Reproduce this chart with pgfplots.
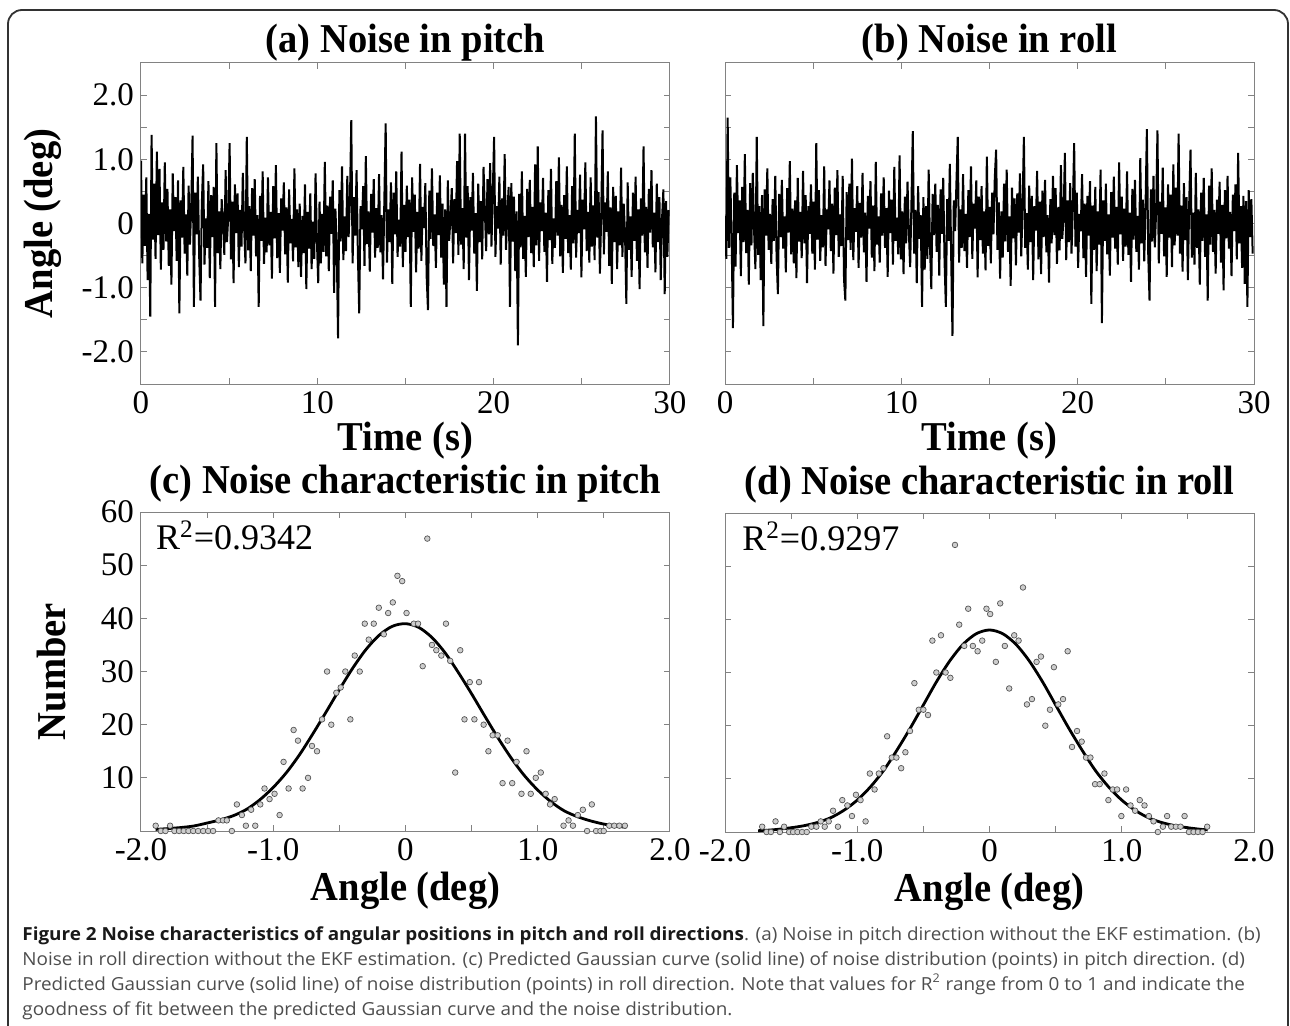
\documentclass[border=0pt]{standalone}
\usepackage{fontspec}
\setmainfont{Liberation Serif}
\newfontfamily\titlefont{Liberation Serif}[FakeStretch=0.94]
\newfontfamily\capfont{Open Sans}[FakeStretch=1.05]
\usepackage{pgfplots}
\pgfplotsset{compat=1.18}
\usepackage{pgfplotstable}

\definecolor{axisgray}{RGB}{130,130,130}
\definecolor{markfill}{RGB}{205,205,205}
\definecolor{markedge}{RGB}{85,85,85}
\definecolor{captext}{RGB}{77,77,77}
\definecolor{capbold}{RGB}{25,25,25}
\definecolor{framecol}{RGB}{50,50,50}

% pitch noise, one sample every 0.075 s
\pgfplotstableread[row sep=\\,header=false]{
0.98\\ -0.62\\ 0.45\\ -0.35\\ 0.72\\ -0.88\\ 0.15\\ -1.45\\ 1.38\\ -0.25\\ 0.62\\ -0.55\\ 1.12\\ -0.18\\ 0.85\\ -0.72\\ 0.33\\ -0.41\\ 0.95\\ -0.28\\
0.54\\ -0.66\\ 0.22\\ -0.95\\ 0.78\\ -0.12\\ 0.41\\ -0.58\\ 0.67\\ -1.40\\ 0.36\\ -0.22\\ 0.88\\ -0.47\\ 0.14\\ -0.81\\ 0.59\\ -0.33\\ 0.26\\ 1.37\\
-1.30\\ 0.48\\ -0.17\\ 0.73\\ -0.52\\ -1.20\\ 0.31\\ 0.92\\ -0.64\\ 0.08\\ -0.38\\ 0.66\\ -0.85\\ 0.44\\ -0.21\\ 0.57\\ -1.30\\ 1.25\\ -0.46\\ 0.19\\
-0.71\\ 0.38\\ 0.05\\ -0.49\\ 0.83\\ -0.29\\ 0.12\\ 1.25\\ -0.56\\ 0.34\\ -0.93\\ 0.61\\ -0.15\\ 0.47\\ -0.68\\ 0.21\\ -0.36\\ 0.79\\ -0.08\\ -0.62\\
1.35\\ -0.42\\ 0.27\\ -0.74\\ 0.55\\ -0.19\\ 0.69\\ -0.51\\ 0.13\\ -1.30\\ 0.43\\ -0.27\\ 0.81\\ -0.63\\ 0.09\\ -0.45\\ 0.72\\ -0.34\\ 0.18\\ -0.86\\
0.58\\ -0.23\\ 0.91\\ -0.54\\ 0.16\\ -0.77\\ 0.39\\ -0.11\\ 0.64\\ -0.48\\ 0.25\\ -0.92\\ 0.53\\ -0.31\\ 0.07\\ -0.59\\ 0.86\\ -0.37\\ 0.22\\ -0.68\\
0.31\\ -0.83\\ 0.12\\ -0.46\\ 0.61\\ -1.02\\ 0.18\\ -0.39\\ 0.47\\ -0.71\\ 0.03\\ -0.55\\ 0.78\\ -0.26\\ -0.93\\ 0.34\\ -0.62\\ 0.15\\ -0.44\\ 0.96\\
-0.51\\ 0.28\\ -0.74\\ 0.42\\ -0.16\\ 0.67\\ -1.08\\ 0.23\\ -0.35\\ -1.79\\ 0.52\\ -0.28\\ 0.89\\ -0.57\\ 0.11\\ -0.43\\ 0.74\\ -0.21\\ 0.36\\ 1.61\\
-0.62\\ 0.41\\ -0.19\\ 0.83\\ -0.48\\ -1.40\\ 0.27\\ -0.09\\ 0.58\\ -0.66\\ 1.05\\ -0.32\\ 0.19\\ -0.75\\ 0.46\\ -0.14\\ 0.69\\ -0.53\\ 0.24\\ -0.38\\
0.77\\ -0.45\\ 0.13\\ -0.87\\ 0.35\\ 1.56\\ -0.61\\ 0.22\\ -0.29\\ 0.64\\ -0.94\\ 0.48\\ -0.17\\ 0.81\\ -0.52\\ 0.06\\ -0.36\\ 1.12\\ -0.68\\ 0.29\\
-0.44\\ 0.59\\ -0.21\\ 0.37\\ -1.30\\ 0.72\\ -0.13\\ 0.45\\ -0.76\\ 0.18\\ -0.39\\ 0.93\\ -0.58\\ 0.26\\ -0.07\\ 0.63\\ -0.82\\ -1.35\\ 0.51\\ -0.24\\
0.86\\ -0.35\\ 0.14\\ -0.69\\ 0.48\\ -0.18\\ 0.75\\ -0.53\\ 0.31\\ -0.95\\ 0.22\\ -1.30\\ 0.67\\ -0.27\\ 0.09\\ 0.55\\ -0.62\\ 0.38\\ -0.15\\ 0.97\\
-0.49\\ 1.40\\ -0.33\\ 0.24\\ -0.71\\ 1.40\\ -0.22\\ 0.58\\ -0.88\\ 0.41\\ -0.11\\ 0.79\\ -0.47\\ 0.16\\ -1.05\\ 0.62\\ -0.29\\ 0.35\\ -0.56\\ 0.88\\
0.21\\ -0.43\\ 0.69\\ -0.17\\ 0.94\\ -0.36\\ 0.48\\ 1.35\\ -0.52\\ 0.27\\ -0.08\\ 0.73\\ -0.64\\ 0.39\\ -0.19\\ 1.08\\ -0.41\\ 0.15\\ 0.57\\ -1.30\\
0.63\\ -0.28\\ 0.42\\ -0.74\\ 0.19\\ -1.90\\ 0.46\\ -0.37\\ 0.81\\ -0.55\\ 0.12\\ -0.83\\ 0.54\\ -0.21\\ 0.68\\ -0.46\\ 0.26\\ -0.68\\ 0.92\\ -0.34\\
1.20\\ -0.58\\ 0.33\\ -0.12\\ 0.71\\ -0.44\\ 0.17\\ -0.91\\ 0.52\\ -0.26\\ 0.85\\ -0.63\\ 0.08\\ -0.38\\ 0.66\\ -0.19\\ 1.03\\ -0.51\\ 0.29\\ -0.77\\
0.44\\ -0.24\\ 0.89\\ -0.46\\ 0.13\\ -0.72\\ 0.58\\ -0.31\\ 1.40\\ -0.53\\ 0.21\\ -0.15\\ 0.76\\ -0.84\\ 0.37\\ -0.09\\ 0.95\\ -0.43\\ 0.18\\ -0.61\\
0.72\\ -0.36\\ 0.28\\ -0.57\\ 1.67\\ -0.22\\ 0.49\\ -0.78\\ 0.14\\ 1.45\\ -0.48\\ 0.33\\ -0.13\\ 0.81\\ -0.66\\ 0.25\\ -0.94\\ 0.57\\ -0.29\\ 0.43\\
-0.71\\ 0.19\\ -0.34\\ 0.87\\ -0.52\\ 0.31\\ -0.16\\ -1.25\\ 0.64\\ -0.41\\ 0.11\\ -0.83\\ 0.48\\ -0.27\\ 0.73\\ -0.58\\ 0.22\\ -1.02\\ 0.39\\ -0.19\\
1.20\\ -0.45\\ 0.26\\ -0.69\\ 0.54\\ -0.14\\ 0.83\\ -0.37\\ 0.17\\ -0.76\\ 0.62\\ -0.29\\ 0.41\\ -0.88\\ 0.08\\ 0.53\\ -1.10\\ 0.35\\ -0.52\\ 0.21\\
}\pitchnoise

% roll noise, one sample every 0.075 s
\pgfplotstableread[row sep=\\,header=false]{
0.12\\ -0.55\\ 1.65\\ -0.38\\ 0.72\\ -0.24\\ -1.63\\ 0.48\\ -0.67\\ 0.91\\ -0.15\\ 0.36\\ -0.82\\ 0.57\\ -0.29\\ 1.08\\ -0.46\\ 0.21\\ -0.95\\ 0.63\\
-0.34\\ 0.79\\ -0.12\\ -0.71\\ 1.35\\ -0.49\\ 0.27\\ -0.88\\ 0.44\\ -1.60\\ 0.53\\ -0.19\\ 0.86\\ -0.41\\ 0.15\\ -0.63\\ 0.38\\ -0.27\\ 0.74\\ -0.52\\
-1.10\\ 0.46\\ -0.21\\ 0.68\\ -0.39\\ 0.11\\ -0.76\\ 0.55\\ -0.14\\ 0.97\\ -0.48\\ 0.23\\ -0.62\\ 0.36\\ -0.85\\ 0.71\\ -0.28\\ 0.18\\ -0.54\\ 0.82\\
-0.31\\ 0.44\\ -0.93\\ 0.27\\ -0.16\\ 0.61\\ -0.47\\ 0.34\\ -0.72\\ 1.25\\ -0.25\\ 0.52\\ -0.58\\ 0.13\\ -0.37\\ 0.89\\ -0.66\\ 0.22\\ -0.09\\ 0.67\\
-0.43\\ 0.31\\ -0.78\\ 0.56\\ -0.18\\ 0.83\\ -0.52\\ 0.14\\ -0.35\\ 0.74\\ -0.87\\ -1.20\\ 0.49\\ -0.26\\ 0.62\\ -0.41\\ 1.01\\ -0.57\\ 0.24\\ -0.13\\
0.58\\ -0.69\\ 0.32\\ -0.22\\ 0.79\\ -0.45\\ 0.17\\ -0.91\\ 0.43\\ -0.08\\ 0.66\\ -0.53\\ 0.28\\ -0.74\\ 0.96\\ -0.33\\ 0.11\\ -0.61\\ 0.47\\ -0.19\\
0.72\\ -0.38\\ 0.24\\ -0.83\\ 0.51\\ -0.15\\ 0.37\\ -0.64\\ 0.88\\ -0.27\\ 0.09\\ -0.48\\ 1.06\\ -0.56\\ 0.19\\ -0.79\\ 0.42\\ -0.31\\ 0.65\\ -0.12\\
-0.68\\ 0.35\\ 1.44\\ -0.47\\ 0.21\\ -0.93\\ 0.58\\ -0.24\\ 0.13\\ -1.30\\ 0.41\\ -0.72\\ 0.27\\ -0.55\\ 0.84\\ -0.36\\ -1.02\\ 0.46\\ -0.18\\ 0.62\\
-0.44\\ 0.29\\ -0.81\\ 0.53\\ -0.16\\ 0.71\\ -0.58\\ -1.30\\ 0.38\\ -0.27\\ 0.93\\ -0.49\\ -1.75\\ 0.36\\ -0.12\\ 0.64\\ 1.35\\ -0.61\\ 0.22\\ -0.38\\
0.77\\ -0.43\\ 0.15\\ -0.69\\ 0.52\\ -0.21\\ 0.89\\ -0.55\\ 0.31\\ -0.08\\ 0.67\\ -0.84\\ 0.42\\ -0.26\\ 0.58\\ -0.47\\ 0.19\\ -0.73\\ 1.04\\ -0.35\\
0.26\\ -0.62\\ 0.48\\ -0.17\\ 0.71\\ 1.15\\ -0.41\\ 0.33\\ -0.86\\ 0.19\\ -0.53\\ 0.62\\ -0.28\\ 0.84\\ -0.44\\ 0.11\\ -0.97\\ 0.56\\ -0.23\\ 0.39\\
-0.65\\ 0.47\\ -0.14\\ 0.78\\ -0.51\\ 0.24\\ 1.35\\ -0.38\\ 0.16\\ -0.72\\ 0.59\\ -0.29\\ 0.43\\ -0.88\\ 0.27\\ -0.11\\ 0.82\\ -0.56\\ 0.34\\ -0.79\\
0.51\\ -0.21\\ 0.68\\ -0.45\\ 0.13\\ -0.92\\ 0.38\\ -0.31\\ 0.74\\ -0.18\\ 0.55\\ -0.63\\ 0.26\\ -0.42\\ 0.91\\ -0.24\\ 0.09\\ 1.10\\ -0.57\\ 0.36\\
-0.29\\ 0.63\\ -0.47\\ 0.22\\ 1.25\\ -0.36\\ 0.48\\ -0.69\\ 0.15\\ -0.12\\ 0.77\\ -0.54\\ 0.31\\ -0.83\\ 0.43\\ -0.19\\ 0.66\\ -1.25\\ 0.28\\ -0.41\\
0.57\\ -0.74\\ 0.19\\ -0.33\\ 0.84\\ -1.55\\ 0.36\\ -0.27\\ 0.62\\ -0.48\\ 0.14\\ -0.81\\ 0.49\\ -0.22\\ 0.73\\ -0.39\\ 0.26\\ -0.64\\ 0.95\\ -0.17\\
0.42\\ -0.58\\ 0.23\\ -0.36\\ 0.81\\ -0.49\\ 0.17\\ -0.91\\ 0.54\\ -0.25\\ 0.68\\ -0.44\\ 0.12\\ -0.72\\ 1.02\\ -0.31\\ 0.37\\ -0.59\\ 0.28\\ 1.47\\
-0.46\\ -1.20\\ 0.53\\ -0.28\\ 0.74\\ -0.37\\ 0.19\\ 1.45\\ -0.62\\ 0.34\\ -0.16\\ 0.87\\ -0.51\\ 0.25\\ -0.83\\ 0.61\\ -0.22\\ 0.45\\ -0.68\\ 0.92\\
-0.34\\ 0.56\\ -0.19\\ 1.40\\ -0.47\\ 0.28\\ -0.75\\ 0.63\\ -0.26\\ 0.41\\ -0.88\\ 0.32\\ 1.15\\ -0.53\\ 0.17\\ -0.64\\ 0.79\\ -0.38\\ 0.22\\ -0.95\\
0.48\\ -0.27\\ 0.71\\ -0.52\\ 0.14\\ -1.20\\ 0.59\\ -0.33\\ 0.86\\ -0.44\\ 0.21\\ -0.78\\ 0.37\\ -0.16\\ 0.65\\ -0.61\\ 0.29\\ -1.04\\ 0.52\\ -0.23\\
0.74\\ -0.39\\ 0.18\\ -0.82\\ 0.45\\ -0.12\\ 0.61\\ -0.56\\ 1.10\\ -0.31\\ 0.27\\ -0.69\\ 0.43\\ -0.94\\ 0.35\\ -1.30\\ 0.52\\ -0.21\\ 0.38\\ -0.47\\
}\rollnoise

\pgfplotsset{
  every axis title shift=0pt,
  panel/.style={
    scale only axis, width=264.5pt, height=160.5pt, anchor=south west,
    axis line style={axisgray, line width=0.5pt},
    tick style={axisgray, line width=0.5pt},
    major tick length=3pt,
    tick label style={font=\fontsize{16.5}{18}\selectfont, black},
    title style={font=\titlefont\bfseries\fontsize{20.5}{24}\selectfont, anchor=center},
    label style={font=\titlefont\bfseries\fontsize{20.5}{24}\selectfont},
  },
  noise/.style={panel,
    xmin=0, xmax=30, ymin=-2.5, ymax=2.5,
    xtick={0,5,10,15,20,25,30}, xticklabels={0,,10,,20,,30},
    ytick={-2,-1.5,-1,-0.5,0,0.5,1,1.5,2},
    title style={at={(axis description cs:0.5,1.062)}},
    xlabel={Time (s)},
    xlabel style={at={(axis description cs:0.5,-0.176)}, anchor=center},
  },
  hist/.style={panel, height=159.5pt,
    xmin=-2, xmax=2, ymin=0, ymax=60,
    xtick={-2,-1.5,-1,-0.5,0,0.5,1,1.5,2},
    xticklabels={-2.0,,-1.0,,0,,1.0,,2.0},
    ytick={0,10,20,30,40,50,60},
    title style={at={(axis description cs:0.5,1.088)}},
    xlabel={Angle (deg)},
    xlabel style={at={(axis description cs:0.5,-0.187)}, anchor=center},
  },
  pts/.style={only marks, mark=*, mark size=1.4pt,
    mark options={fill=markfill, draw=markedge, line width=0.35pt}},
  fit/.style={black, line width=1.4pt, smooth},
  trace/.style={black, line width=1pt},
}

\begin{document}
\begin{tikzpicture}
\useasboundingbox (0,0) rectangle (645pt,512.5pt);
\draw[framecol, line width=0.9pt, rounded corners=7pt] (4pt,-20pt) rectangle (644pt,507.5pt);

% (a)
\begin{axis}[noise, at={(70.5pt,320.5pt)},
  yticklabels={-2.0,,-1.0,,0,,1.0,,2.0},
  title={(a) Noise in pitch},
  ylabel={Angle (deg)},
  ylabel style={at={(axis description cs:-0.186,0.5)}, anchor=center},
]
\addplot[trace] table[x expr=\coordindex*0.075, y index=0] {\pitchnoise};
\end{axis}

% (b)
\begin{axis}[noise, at={(362.5pt,320.5pt)},
  yticklabels={},
  title={(b) Noise in roll},
]
\addplot[trace] table[x expr=\coordindex*0.075, y index=0] {\rollnoise};
\end{axis}

% (c)
\begin{axis}[hist, at={(70.5pt,97pt)},
  yticklabels={,10,20,30,40,50,60},
  title={(c) Noise characteristic in pitch},
  ylabel={Number},
  ylabel style={at={(axis description cs:-0.170,0.5)}, anchor=center},
]
\addplot[pts] coordinates {
(-1.889,1) (-1.850,0) (-1.815,0) (-1.780,1) (-1.747,0) (-1.712,0) (-1.677,0)
(-1.641,0) (-1.605,0) (-1.568,0) (-1.530,0) (-1.492,0) (-1.455,0) (-1.414,2)
(-1.380,2) (-1.351,2) (-1.313,0) (-1.275,5) (-1.237,3) (-1.207,1) (-1.167,4)
(-1.136,1) (-1.098,5) (-1.066,8) (-1.028,6) (-0.990,7) (-0.952,3) (-0.922,13)
(-0.884,8) (-0.846,19) (-0.813,17) (-0.778,8) (-0.737,10) (-0.707,16) (-0.669,15)
(-0.631,21) (-0.593,30) (-0.561,20) (-0.523,26) (-0.490,27) (-0.455,30) (-0.417,21)
(-0.384,33) (-0.346,30) (-0.308,39) (-0.278,36) (-0.240,39) (-0.202,42) (-0.164,37)
(-0.131,41) (-0.096,43) (-0.061,48) (-0.025,47) (0.008,41) (0.063,39) (0.095,39)
(0.130,31) (0.165,55) (0.200,35) (0.233,34) (0.271,33) (0.306,39) (0.338,32)
(0.376,11) (0.414,34) (0.446,21) (0.486,28) (0.521,21) (0.556,28) (0.591,20)
(0.627,15) (0.659,18) (0.697,18) (0.734,9) (0.772,17) (0.807,9) (0.840,13)
(0.877,7) (0.915,15) (0.947,7) (0.985,10) (1.023,11) (1.060,7) (1.093,5)
(1.128,6) (1.195,1) (1.233,2) (1.266,1) (1.303,3) (1.341,4) (1.373,0)
(1.409,5) (1.441,0) (1.474,0) (1.499,0) (1.541,1) (1.579,1) (1.617,1) (1.659,1)
};
\addplot[fit] coordinates {
(-1.89,0.3) (-1.8,0.45) (-1.7,0.65) (-1.6,0.95) (-1.5,1.5) (-1.4,2.1) (-1.3,2.9)
(-1.2,4.1) (-1.1,5.9) (-1.0,8.2) (-0.9,11.0) (-0.8,14.4) (-0.7,18.3) (-0.6,22.4)
(-0.5,26.6) (-0.4,30.6) (-0.3,34.1) (-0.2,36.8) (-0.1,38.5) (0.0,39.0) (0.1,38.3)
(0.2,36.4) (0.3,33.5) (0.4,29.8) (0.5,25.8) (0.6,21.6) (0.7,17.5) (0.8,13.7)
(0.9,10.4) (1.0,7.7) (1.1,5.5) (1.2,3.8) (1.3,2.7) (1.4,1.9) (1.5,1.3) (1.6,0.9) (1.67,0.7)
};
\node[anchor=base west, font=\fontsize{18}{20}\selectfont, inner sep=0pt]
  at (rel axis cs:0.028,0.881) {R\textsuperscript{2}=0.9342};
\end{axis}

% (d)
\begin{axis}[hist, at={(362.5pt,96.5pt)},
  yticklabels={},
  title={(d) Noise characteristic in roll},
]
\addplot[pts] coordinates {
(-1.719,1) (-1.686,0) (-1.653,0) (-1.618,2) (-1.585,0) (-1.553,1) (-1.515,0)
(-1.485,0) (-1.452,0) (-1.417,0) (-1.382,0) (-1.347,1) (-1.309,1) (-1.276,2)
(-1.246,1) (-1.216,2) (-1.183,4) (-1.146,1) (-1.113,6) (-1.075,5) (-1.040,3)
(-1.010,7) (-0.975,6) (-0.937,2) (-0.905,11) (-0.869,8) (-0.837,11) (-0.802,12)
(-0.774,18) (-0.739,14) (-0.704,14) (-0.668,12) (-0.636,15) (-0.601,19) (-0.568,28)
(-0.535,23) (-0.500,23) (-0.465,22) (-0.432,36) (-0.402,30) (-0.367,37) (-0.332,30)
(-0.296,29) (-0.261,54) (-0.229,39) (-0.191,35) (-0.161,42) (-0.126,35) (-0.090,34)
(-0.055,36) (-0.023,42) (0.005,41) (0.048,32) (0.081,43) (0.116,35) (0.149,27)
(0.187,37) (0.220,36) (0.253,46) (0.283,24) (0.321,25) (0.356,32) (0.389,33)
(0.422,20) (0.457,23) (0.487,31) (0.520,24) (0.556,25) (0.591,34) (0.624,16)
(0.662,19) (0.697,17) (0.730,14) (0.763,14) (0.798,9) (0.833,9) (0.869,11)
(0.899,6) (0.932,8) (0.965,8) (0.997,3) (1.033,8) (1.066,5) (1.101,4)
(1.136,6) (1.172,5) (1.205,3) (1.240,2) (1.273,0) (1.311,1) (1.343,3)
(1.374,1) (1.409,1) (1.444,1) (1.475,3) (1.508,0) (1.543,0) (1.576,0) (1.611,0) (1.646,1)
};
\addplot[fit] coordinates {
(-1.75,0.25) (-1.7,0.3) (-1.6,0.5) (-1.5,0.8) (-1.4,1.2) (-1.3,1.8) (-1.2,2.7)
(-1.1,4.1) (-1.0,6.0) (-0.9,8.5) (-0.8,11.6) (-0.7,15.4) (-0.6,19.5) (-0.5,23.9)
(-0.4,28.3) (-0.3,32.2) (-0.2,35.3) (-0.1,37.3) (0,38) (0.1,37.3) (0.2,35.3)
(0.3,32.2) (0.4,28.3) (0.5,23.9) (0.6,19.5) (0.7,15.4) (0.8,11.6) (0.9,8.5)
(1.0,6.0) (1.1,4.1) (1.2,2.7) (1.3,1.8) (1.4,1.2) (1.5,0.8) (1.6,0.5) (1.65,0.4)
};
\node[anchor=base west, font=\fontsize{18}{20}\selectfont, inner sep=0pt]
  at (rel axis cs:0.032,0.881) {R\textsuperscript{2}=0.9297};
\end{axis}

% caption
\node[anchor=north west, align=left, inner sep=0pt, text=captext,
  font=\capfont\fontsize{9}{12.5}\selectfont] at (11pt,49.5pt) {%
{\color{capbold}\bfseries Figure 2 Noise characteristics of angular positions in pitch and roll directions}. (a) Noise in pitch direction without the EKF estimation. (b)\\
Noise in roll direction without the EKF estimation. (c) Predicted Gaussian curve (solid line) of noise distribution (points) in pitch direction. (d)\\
Predicted Gaussian curve (solid line) of noise distribution (points) in roll direction. Note that values for R\textsuperscript{2} range from 0 to 1 and indicate the\\
goodness of fit between the predicted Gaussian curve and the noise distribution.};
\end{tikzpicture}
\end{document}
